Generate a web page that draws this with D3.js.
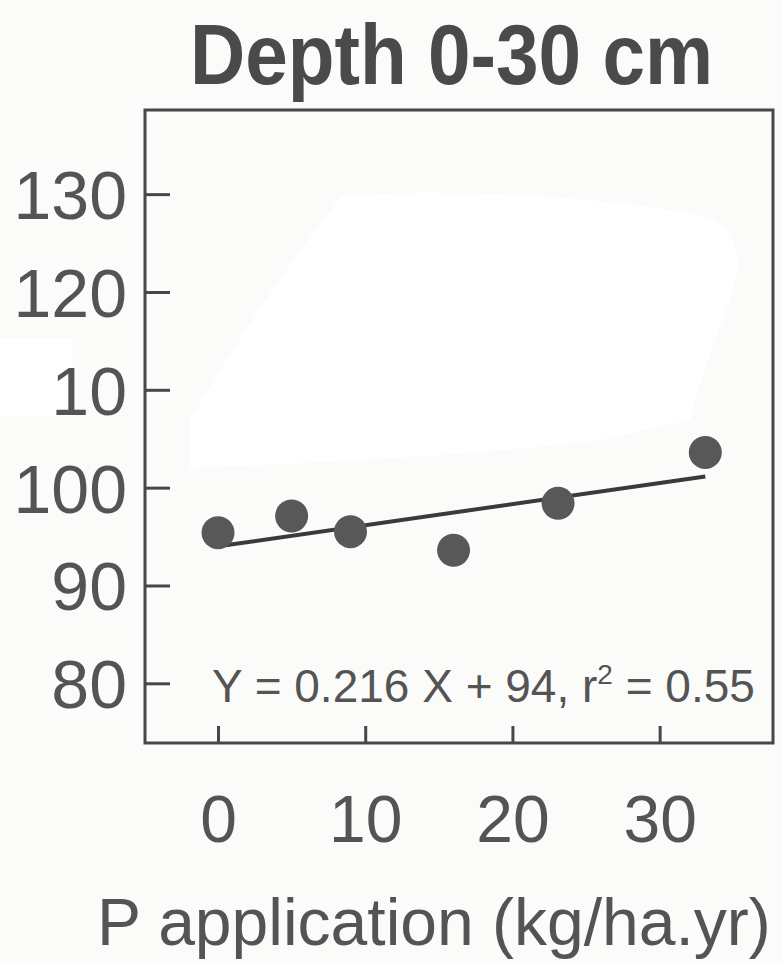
<!DOCTYPE html>
<html>
<head>
<meta charset="utf-8">
<script src="https://cdn.jsdelivr.net/npm/d3@7"></script>
<style>
  html, body { margin: 0; padding: 0; background: #fbfbfa; }
  svg { display: block; }
  text { font-family: "Liberation Sans", Arial, sans-serif; }
</style>
</head>
<body>
<svg id="chart" width="783" height="963"></svg>
<script>
// P application rate (kg/ha.yr) and measured value at 0-30 cm depth
const pRates = [0, 5, 9, 16, 23.1, 33.1];
const depthValues = [95.4, 97.1, 95.5, 93.6, 98.4, 103.6];

// Fitted regression: Y = 0.216 X + 94, r² = 0.55
const fitSlope = 0.216;
const fitIntercept = 94;
const fitRange = [0, 33.1];

const xTickValues = [0, 10, 20, 30];
const xTickLabels = ["0", "10", "20", "30"];
const yTickValues = [80, 90, 100, 110, 120, 130];
const yTickLabels = ["80", "90", "100", "10", "120", "130"];

const titleText = "Depth 0-30 cm";
const xAxisTitle = "P application (kg/ha.yr)";
const equationText = ["Y = 0.216 X + 94, r", "2", " = 0.55"];

const svg = d3.select("#chart");
const frame = { left: 145, right: 773, top: 110, bottom: 743 };

const x = d3.scaleLinear().domain([-4.96, 37.7]).range([frame.left, frame.right]);
const y = d3.scaleLinear().domain([73.9, 138.6]).range([frame.bottom, frame.top]);

const ink = "#545454";

// Erased areas of the sheet
svg.append("rect").attr("x", 0).attr("y", 338).attr("width", 72).attr("height", 78).attr("fill", "#ffffff");
svg.append("path")
  .attr("d", "M341,197 C450,185 620,200 700,215 C740,225 745,260 730,300 C715,340 700,380 690,420 L600,440 C480,455 330,462 190,468 L190,420 C215,380 260,300 341,197 Z")
  .attr("fill", "#ffffff");

// Title
svg.append("text")
  .attr("x", 190).attr("y", 84)
  .attr("font-size", 86).attr("font-weight", "bold")
  .attr("textLength", 523).attr("lengthAdjust", "spacingAndGlyphs")
  .attr("fill", "#4a4a4a")
  .text(titleText);

// Plot frame
svg.append("rect")
  .attr("x", frame.left).attr("y", frame.top)
  .attr("width", frame.right - frame.left).attr("height", frame.bottom - frame.top)
  .attr("fill", "none").attr("stroke", "#474747").attr("stroke-width", 3);

// Y axis (ticks pointing inward)
const yAxis = d3.axisRight(y)
  .tickValues(yTickValues)
  .tickSize(25)
  .tickFormat((d, i) => yTickLabels[i]);
const gy = svg.append("g").attr("transform", `translate(${frame.left},0)`).call(yAxis);
gy.select(".domain").remove();
gy.selectAll(".tick line").attr("stroke", "#474747").attr("stroke-width", 3);
gy.selectAll(".tick text")
  .attr("x", -18).attr("dy", "0.36em")
  .attr("text-anchor", "end")
  .attr("font-size", 68).attr("fill", ink);

// X axis (ticks pointing inward)
const xAxis = d3.axisTop(x)
  .tickValues(xTickValues)
  .tickSize(17)
  .tickFormat((d, i) => xTickLabels[i]);
const gx = svg.append("g").attr("transform", `translate(0,${frame.bottom})`).call(xAxis);
gx.select(".domain").remove();
gx.selectAll(".tick line").attr("stroke", "#474747").attr("stroke-width", 3);
gx.selectAll(".tick text")
  .attr("y", 99).attr("dy", 0)
  .attr("text-anchor", "middle")
  .attr("font-size", 66).attr("fill", ink);

// Regression line
svg.append("line")
  .attr("x1", x(fitRange[0])).attr("y1", y(fitSlope * fitRange[0] + fitIntercept))
  .attr("x2", x(fitRange[1])).attr("y2", y(fitSlope * fitRange[1] + fitIntercept))
  .attr("stroke", "#3a3a3a").attr("stroke-width", 4);

// Observations
svg.append("g").selectAll("circle")
  .data(pRates.map((p, i) => ({ p, v: depthValues[i] })))
  .join("circle")
  .attr("cx", d => x(d.p)).attr("cy", d => y(d.v))
  .attr("r", 16.5)
  .attr("fill", "#585858");

// Equation
const eq = svg.append("text")
  .attr("x", 212).attr("y", 702)
  .attr("font-size", 46).attr("fill", ink);
eq.append("tspan").text(equationText[0]);
eq.append("tspan").attr("font-size", 28).attr("dy", -18).text(equationText[1]);
eq.append("tspan").attr("dy", 18).text(equationText[2]);

// X axis title
svg.append("text")
  .attr("x", 97).attr("y", 945)
  .attr("font-size", 66).attr("fill", ink)
  .text(xAxisTitle);
</script>
</body>
</html>
